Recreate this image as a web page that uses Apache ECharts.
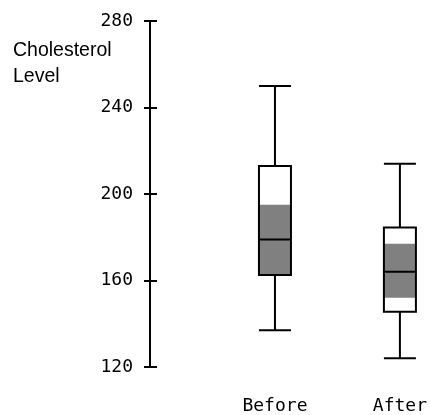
<!DOCTYPE html>
<html>
<head>
<meta charset="utf-8">
<script src="https://cdn.jsdelivr.net/npm/echarts@6/dist/echarts.min.js"></script>
<style>html,body{margin:0;padding:0;background:#fff;}#c{width:430px;height:415px;}</style>
</head>
<body>
<div id="c"></div>
<script>
var categories = ['', 'Before', 'After'];
// [min, Q1, median, Q3, max]
var beforeBox = [137, 162.5, 179, 213, 250];
var afterBox = [124, 145.5, 164, 184.5, 214];
// shaded median confidence band [low, high]
var beforeBand = [162.5, 195];
var afterBand = [152, 177];
var yTicks = [120, 160, 200, 240, 280];

var chart = echarts.init(document.getElementById('c'), null, {renderer: 'canvas'});
var monoFont = '"DejaVu Sans Mono", monospace';
chart.setOption({
  animation: false,
  backgroundColor: '#fff',
  title: {
    text: 'Cholesterol\nLevel',
    left: 8, top: 33,
    textStyle: {fontFamily: '"Liberation Sans", Arial, sans-serif', fontSize: 19.5, fontWeight: 'normal', color: '#000', lineHeight: 26}
  },
  grid: {left: 150, right: 25, top: 21, bottom: 45, containLabel: false},
  xAxis: {
    type: 'category', data: categories, boundaryGap: false,
    axisLine: {show: false}, axisTick: {show: false}, splitLine: {show: false},
    axisLabel: {fontFamily: monoFont, fontSize: 18, color: '#000', margin: 30, interval: 0}
  },
  yAxis: [{
    type: 'value', min: yTicks[0], max: yTicks[yTicks.length - 1], interval: 40,
    axisLine: {show: true, lineStyle: {color: '#000', width: 2}},
    axisTick: {show: true, length: 6, lineStyle: {color: '#000', width: 2}},
    splitLine: {show: false},
    axisLabel: {fontFamily: monoFont, fontSize: 18, color: '#000', margin: 17}
  }, {
    type: 'value', min: yTicks[0], max: yTicks[yTicks.length - 1], interval: 40, position: 'left',
    axisLine: {show: false},
    axisTick: {show: true, inside: true, length: 7, lineStyle: {color: '#000', width: 2}},
    splitLine: {show: false}, axisLabel: {show: false}
  }],
  series: [{
    type: 'custom',
    z: 1,
    data: [[1, beforeBand[0], beforeBand[1]], [2, afterBand[0], afterBand[1]]],
    renderItem: function (params, api) {
      var lo = api.coord([api.value(0), api.value(1)]);
      var hi = api.coord([api.value(0), api.value(2)]);
      var w = 32;
      return {type: 'rect', shape: {x: lo[0] - w / 2, y: hi[1], width: w, height: lo[1] - hi[1]},
        style: {fill: '#808080'}};
    }
  }, {
    type: 'boxplot',
    z: 2,
    boxWidth: [32, 32],
    itemStyle: {color: 'transparent', borderColor: '#000', borderWidth: 2},
    data: ['-', beforeBox, afterBox]
  }]
});
</script>
</body>
</html>
